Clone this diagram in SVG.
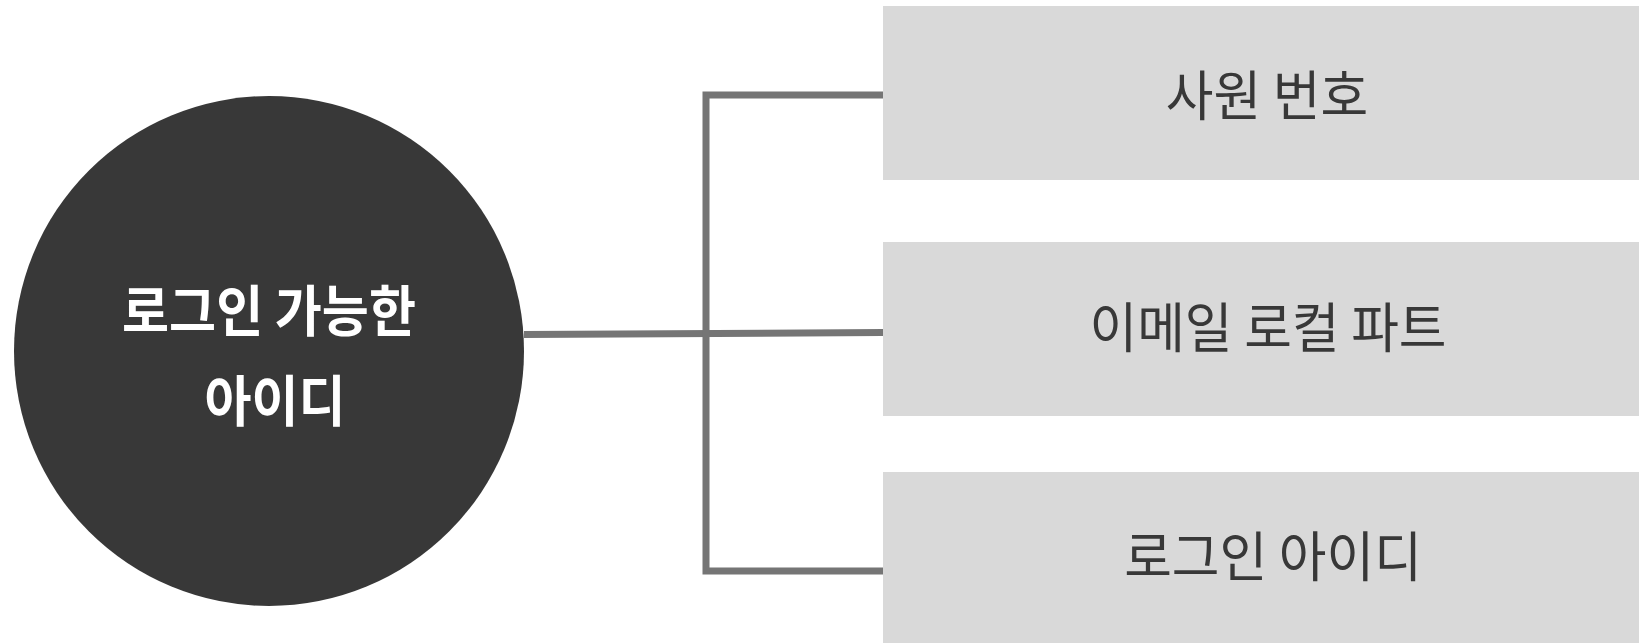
<svg xmlns="http://www.w3.org/2000/svg" width="1639" height="643" viewBox="0 0 1639 643">
<style>
.box{fill:#d9d9d9}
.lbl{font-family:"Noto Sans CJK KR","Noto Sans",sans-serif;font-size:54px;fill:#383838;text-anchor:middle;dominant-baseline:central}
.clbl{font-family:"Noto Sans CJK KR","Noto Sans",sans-serif;font-size:55px;font-weight:bold;fill:#ffffff;text-anchor:middle;dominant-baseline:central}
.con{fill:none;stroke:#757575;stroke-width:7}
</style>
<rect width="1639" height="643" fill="#ffffff"/>
<g id="connectors">
<path class="con" d="M524 334.5 L883 332.5"/>
<path class="con" d="M883 95 L706 95 L706 571 L883 571"/>
</g>
<g id="root">
<circle cx="269" cy="351" r="255" fill="#383838"/>
<text class="clbl" transform="translate(269 307) scale(0.93 1)">로그인 가능한</text>
<text class="clbl" transform="translate(275 397) scale(0.93 1)">아이디</text>
</g>
<g id="n1">
<rect class="box" x="883" y="6" width="756" height="174"/>
<text class="lbl" transform="translate(1267 93) scale(0.96 1)">사원 번호</text>
</g>
<g id="n2">
<rect class="box" x="883" y="242" width="756" height="174"/>
<text class="lbl" transform="translate(1268 325) scale(0.96 1)">이메일 로컬 파트</text>
</g>
<g id="n3">
<rect class="box" x="883" y="472" width="756" height="171"/>
<text class="lbl" transform="translate(1273 554) scale(0.96 1)">로그인 아이디</text>
</g>
</svg>
